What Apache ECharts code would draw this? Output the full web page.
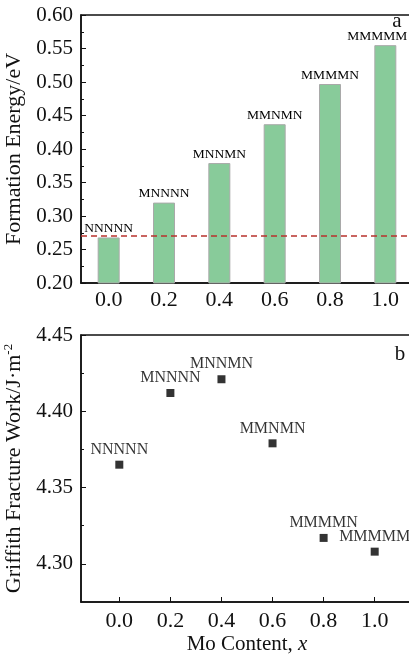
<!DOCTYPE html>
<html>
<head>
<meta charset="utf-8">
<script src="https://cdn.jsdelivr.net/npm/echarts@6/dist/echarts.min.js"></script>
<style>html,body{margin:0;padding:0;background:#fff}#c{width:409px;height:657px}</style>
</head>
<body>
<div id="c"></div>
<script>
// ---- data ----
const moContent = ['0.0', '0.2', '0.4', '0.6', '0.8', '1.0'];
const moContentNum = [0.0, 0.2, 0.4, 0.6, 0.8, 1.0];
const configs = ['NNNNN', 'MNNNN', 'MNNMN', 'MMNMN', 'MMMMN', 'MMMMM'];
const formationEnergy = [0.268, 0.320, 0.379, 0.437, 0.497, 0.555];
const referenceEnergy = 0.268;
const griffithWork = [4.365, 4.412, 4.421, 4.379, 4.317, 4.308];
const bottomXTicks = [0.0, 0.2, 0.4, 0.6, 0.8, 1.0];
const bottomYTicks = [4.30, 4.35, 4.40, 4.45];
const bottomYMinor = [4.325, 4.375, 4.425];

const FONT = "'Liberation Serif', 'Times New Roman', serif";
const chart = echarts.init(document.getElementById('c'), null, {renderer: 'canvas'});

const scatterData = moContentNum.map((x, i) => [x, griffithWork[i], configs[i]]);
// last bar label nudged left so it stays inside the plot, as in the original figure
const barData = formationEnergy.map((v, i) =>
  i === formationEnergy.length - 1 ? {value: v, label: {offset: [-8, 0]}} : v);

const axisLine = {show: true, onZero: false, lineStyle: {color: '#111', width: 1.5}};

chart.setOption({
  backgroundColor: '#fff',
  animation: false,
  grid: [
    {left: 81, top: 15, width: 332, height: 268, show: true, borderColor: '#111', borderWidth: 1.5, backgroundColor: 'transparent', outerBoundsMode: 'none', containLabel: false},
    {left: 81, top: 335, width: 332, height: 267, show: true, borderColor: '#111', borderWidth: 1.5, backgroundColor: 'transparent', outerBoundsMode: 'none', containLabel: false}
  ],
  xAxis: [
    {
      type: 'category', gridIndex: 0, data: moContent, boundaryGap: true,
      axisLine: axisLine, axisTick: {show: false},
      axisLabel: {fontFamily: FONT, fontSize: 22, color: '#111', margin: 6}
    },
    {
      type: 'value', gridIndex: 1, min: -0.15, max: 1.15,
      axisLine: axisLine, splitLine: {show: false},
      axisTick: {show: true, inside: true, length: 5, customValues: bottomXTicks, lineStyle: {color: '#111', width: 1}},
      axisLabel: {fontFamily: FONT, fontSize: 22, color: '#111', margin: 8, customValues: bottomXTicks, formatter: v => v.toFixed(1)},
      name: 'Mo Content, {i|x}', nameLocation: 'middle', nameGap: 32,
      nameTextStyle: {fontFamily: FONT, fontSize: 21, color: '#111', rich: {i: {fontFamily: FONT, fontSize: 21, fontStyle: 'italic', color: '#111'}}}
    }
  ],
  yAxis: [
    {
      type: 'value', gridIndex: 0, min: 0.2, max: 0.6, interval: 0.05, position: 'left',
      axisLine: axisLine, splitLine: {show: false},
      axisTick: {show: true, inside: true, length: 5, lineStyle: {color: '#111'}},
      minorTick: {show: true, splitNumber: 2, length: 3, lineStyle: {color: '#111'}},
      axisLabel: {fontFamily: FONT, fontSize: 21, color: '#111', margin: 8, formatter: v => v.toFixed(2)},
      name: 'Formation Energy/eV', nameLocation: 'middle', nameGap: 42,
      nameTextStyle: {fontFamily: FONT, fontSize: 22, color: '#111'}
    },
    {
      type: 'value', gridIndex: 1, min: 4.275, max: 4.45, position: 'left',
      axisLine: axisLine, splitLine: {show: false},
      axisTick: {show: true, inside: true, length: 5, customValues: bottomYTicks, lineStyle: {color: '#111'}},
      axisLabel: {fontFamily: FONT, fontSize: 21, color: '#111', margin: 8, customValues: bottomYTicks, formatter: v => v.toFixed(2)},
      name: 'Griffith Fracture Work/J·m{s|-2}', nameLocation: 'middle', nameGap: 42,
      nameTextStyle: {fontFamily: FONT, fontSize: 22, color: '#111', rich: {s: {fontFamily: FONT, fontSize: 13, color: '#111', padding: [0, 0, 12, 0]}}}
    },
    {
      type: 'value', gridIndex: 1, min: 4.275, max: 4.45, position: 'left', offset: 0,
      axisLine: {show: false, onZero: false}, splitLine: {show: false}, axisLabel: {show: false},
      axisTick: {show: true, inside: true, length: 3, customValues: bottomYMinor, lineStyle: {color: '#111'}}
    }
  ],
  series: [
    {
      type: 'bar', xAxisIndex: 0, yAxisIndex: 0, data: barData, barWidth: 22,
      itemStyle: {color: '#88cb9a', borderColor: '#a9a9a9', borderWidth: 1},
      label: {show: true, position: 'top', distance: 2, fontFamily: FONT, fontSize: 13.5, color: '#000',
              formatter: p => configs[p.dataIndex]},
      markLine: {
        silent: true, symbol: 'none', label: {show: false},
        lineStyle: {color: '#b8322c', type: [6, 4], width: 1.5},
        data: [{yAxis: referenceEnergy}]
      }
    },
    {
      type: 'scatter', xAxisIndex: 1, yAxisIndex: 1, data: scatterData,
      symbol: 'rect', symbolSize: 8, itemStyle: {color: '#000'},
      label: {show: true, position: 'top', distance: 3, fontFamily: FONT, fontSize: 16, color: '#000',
              formatter: p => p.data[2]}
    }
  ],
  graphic: [
    {type: 'text', style: {text: 'a', x: 397, y: 21, fontFamily: FONT, fontSize: 21, fill: '#111', textAlign: 'center', textVerticalAlign: 'middle'}},
    {type: 'text', style: {text: 'b', x: 400, y: 354, fontFamily: FONT, fontSize: 21, fill: '#111', textAlign: 'center', textVerticalAlign: 'middle'}}
  ]
});
</script>
</body>
</html>
